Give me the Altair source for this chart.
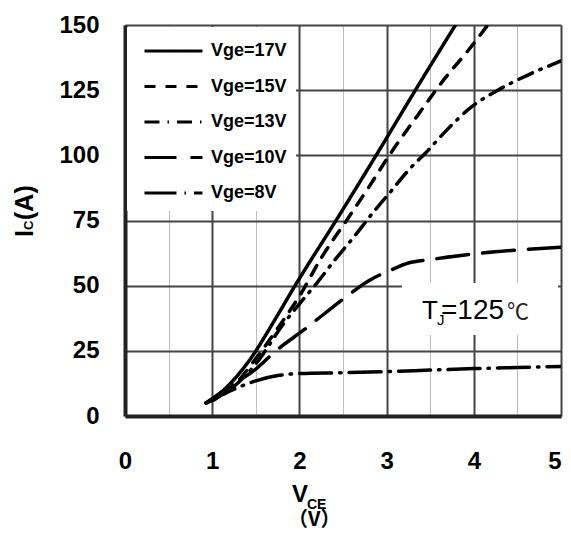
import altair as alt
import pandas as pd

labels = ["Vge=17V", "Vge=15V", "Vge=13V", "Vge=10V", "Vge=8V"]

vce_17 = [0.93, 1.1, 1.25, 1.43, 1.72, 1.95, 2.42, 2.88, 3.33, 3.79]
ic_17 = [5, 9, 14, 21.5, 37, 50, 75, 100, 125, 150]

vce_15 = [0.93, 1.2, 1.5, 1.8, 2.0, 2.25, 2.55, 2.8, 3.05, 3.36, 3.67, 3.94, 4.16]
ic_15 = [5, 10, 22, 36, 46, 60.6, 75.5, 88, 101, 115.5, 129.6, 140.4, 150]

vce_13 = [0.93, 1.2, 1.5, 1.81, 2.0, 2.2, 2.41, 2.62, 2.88, 3.02, 3.27, 3.45,
          3.67, 3.97, 4.26, 4.62, 5.0]
ic_13 = [5, 10, 20, 35, 43, 51, 60, 68.5, 79.5, 85, 95, 101,
         109, 118.5, 124.7, 130.8, 136.2]

vce_10 = [0.93, 1.23, 1.5, 1.73, 2.05, 2.53, 2.8, 3.05, 3.25, 3.5, 3.9, 4.5, 5.0]
ic_10 = [5, 12, 18, 25, 33, 45.6, 52, 56, 58.7, 60, 61.8, 63.7, 64.8]

vce_8 = [0.93, 1.2, 1.5, 1.75, 2.0, 2.5, 3.0, 3.5, 4.0, 4.5, 5.0]
ic_8 = [5, 9.5, 13.5, 15.5, 16.3, 16.6, 17.0, 17.6, 18.2, 18.6, 19.0]

x_ticks = [0, 0.5, 1, 1.5, 2, 2.5, 3, 3.5, 4, 4.5, 5]
y_ticks = [0, 25, 50, 75, 100, 125, 150]

dashes = [[1, 0], [11, 10], [15, 8, 1.5, 8], [32, 14], [32, 8, 1.5, 8]]

rows = []
for lab, xs, ys in zip(labels, [vce_17, vce_15, vce_13, vce_10, vce_8],
                       [ic_17, ic_15, ic_13, ic_10, ic_8]):
    for i, (xv, yv) in enumerate(zip(xs, ys)):
        rows.append({"series": lab, "vce": xv, "ic": yv, "order": i})
df = pd.DataFrame(rows)

FONT = "Liberation Sans, Arial, 'Noto Sans CJK SC'"
CJK = "'Noto Sans CJK SC', 'Noto Sans CJK JP'"
W, H = 436, 391

xscale = alt.Scale(domain=[0, 5], nice=False, zero=False)
yscale = alt.Scale(domain=[0, 150], nice=False)

xaxis = alt.Axis(
    values=x_ticks, title=None, ticks=False, labelFlush=False,
    labelExpr="datum.value % 1 === 0 ? format(datum.value, 'd') : ''",
    labelAlign={"condition": {"test": "datum.value === 5", "value": "right"}, "value": "center"},
    labelFont=FONT, labelFontSize=24, labelFontWeight="bold", labelColor="black",
    labelPadding=33,
    domainColor="#222222", domainWidth=4,
    gridColor={"condition": {"test": "datum.value % 1 !== 0", "value": "#bdbdbd"}, "value": "#444444"},
    gridWidth={"condition": {"test": "datum.value % 1 !== 0", "value": 1}, "value": 2},
)
yaxis = alt.Axis(
    values=y_ticks, title=None, ticks=False,
    labelFont=FONT, labelFontSize=24, labelFontWeight="bold", labelColor="black",
    labelPadding=26, domainColor="#222222", domainWidth=4,
    gridColor="#444444", gridWidth=2,
)

lines = alt.Chart(df).mark_line(
    strokeWidth=3.5, strokeCap="round", color="black", interpolate="monotone", clip=True
).encode(
    x=alt.X("vce:Q", scale=xscale, axis=xaxis),
    y=alt.Y("ic:Q", scale=yscale, axis=yaxis),
    strokeDash=alt.StrokeDash(
        "series:N",
        scale=alt.Scale(domain=labels, range=dashes),
        sort=labels,
        legend=alt.Legend(
            title=None, orient="top-left", offset=2, padding=8,
            fillColor="white", strokeColor="white",
            symbolType="M-0.45,0H3.55", symbolSize=841, symbolStrokeWidth=3,
            symbolStrokeColor="black",
            labelFont=FONT, labelFontSize=18, labelFontWeight="bold",
            labelColor="black", labelOffset=44, rowPadding=10.5,
        ),
    ),
    order="order:Q",
)

box = alt.Chart(pd.DataFrame({"a": [0]})).mark_rect(color="white").encode(
    x=alt.value(277), x2=alt.value(433), y=alt.value(258), y2=alt.value(310)
)

def txt(s, x, y, size, weight="normal", angle=0, font=FONT, color="black"):
    return alt.Chart(pd.DataFrame({"t": [s]})).mark_text(
        text=s, font=font, fontSize=size, fontWeight=weight, color=color,
        align="left", baseline="alphabetic", angle=angle,
    ).encode(x=alt.value(x), y=alt.value(y))

annots = [
    txt("T", 297, 294, 26),
    txt("J", 312, 300, 15),
    txt("=125", 316, 294, 28),
    txt("℃", 382, 294, 22, font=CJK, color="#222222"),
    txt("V", 167, 477, 24, "bold"),
    txt("CE", 182, 484, 14, "bold"),
    txt("（V）", 163, 501, 20, "bold", font=CJK),
    txt("I", -92, 212, 25, "bold", 270),
    txt("C", -92, 205, 13, "bold", 270),
    txt("(A)", -92, 195, 25, "bold", 270),
]

chart = alt.layer(lines, box, *annots).properties(
    width=W, height=H,
    autosize=alt.AutoSizeParams(type="none"),
    padding={"left": 117, "top": 17, "right": 2, "bottom": 114},
).configure_view(stroke="#444444", strokeWidth=4).configure(background="white")

chart.save("out.html", embed_options={"renderer": "svg", "actions": False})
